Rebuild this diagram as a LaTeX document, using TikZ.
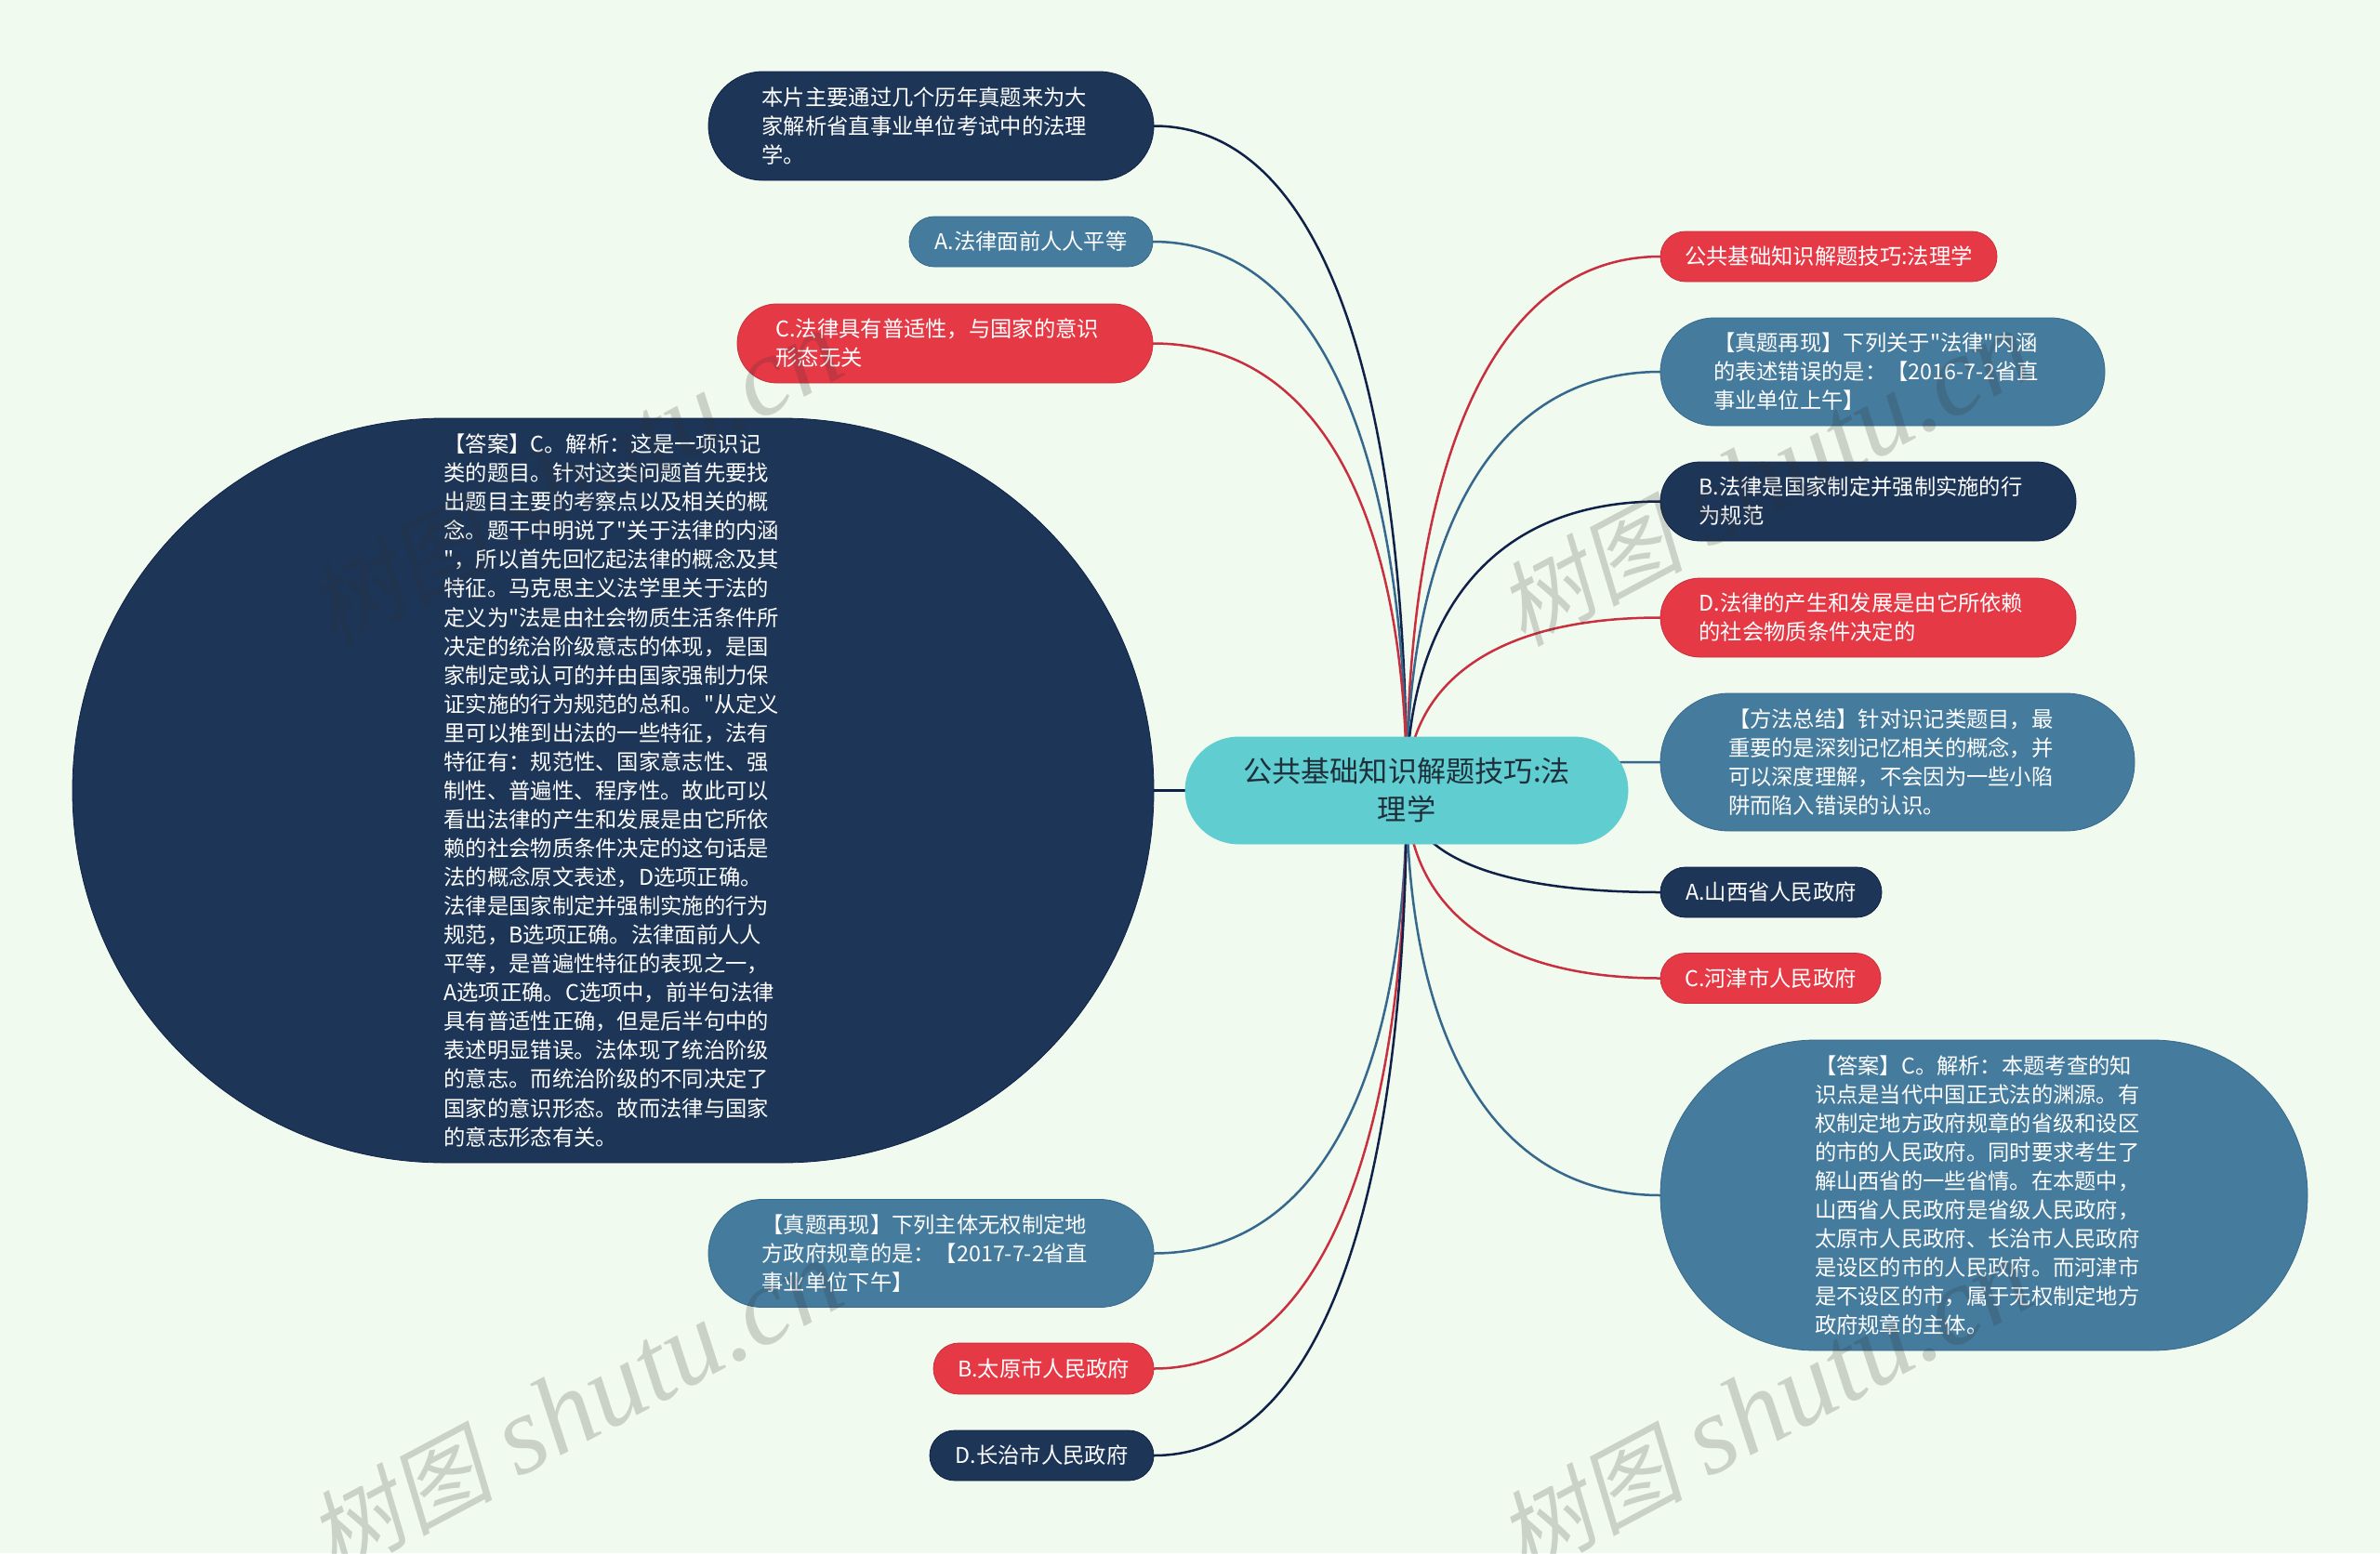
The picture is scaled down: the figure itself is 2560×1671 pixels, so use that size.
\documentclass[tikz,border=0pt]{standalone}
\usepackage{fontspec}
\usetikzlibrary{backgrounds}
\newfontfamily\cjkm{Noto Sans CJK SC}
\newfontfamily\wmcjk[FakeSlant=0.2]{Noto Sans CJK SC}
\newfontfamily\wmlat{Liberation Serif}[ItalicFont={Liberation Serif Italic}]
\definecolor{bgc}{HTML}{F1FAEE}
\definecolor{navyf}{HTML}{1D3557}
\definecolor{bluef}{HTML}{457B9D}
\definecolor{redf}{HTML}{E63946}
\definecolor{tealf}{HTML}{60CDD0}
\definecolor{centt}{HTML}{1E2F3A}
\definecolor{navyl}{HTML}{0F2148}
\definecolor{bluel}{HTML}{36688E}
\definecolor{redl}{HTML}{C8303F}
\definecolor{wmc}{HTML}{323232}
\tikzset{
  x=0.5pt,y=-0.5pt,
  mbox/.style 2 args={rectangle,inner sep=0pt,outer sep=0pt,text=white,align=left,
    font=\cjkm\fontsize{11.65}{15.53}\selectfont,
    minimum width=#1*0.5pt,minimum height=#2*0.5pt,rounded corners=#2*0.2495pt},
  para/.style={text width=182pt},
  navyn/.style={fill=navyf,draw=navyl,line width=0.4pt},
  bluen/.style={fill=bluef,draw=bluel,line width=0.4pt},
  redn/.style={fill=redf,draw=redl,line width=0.4pt},
  link/.style={line width=1.25pt},
  navyk/.style={link,draw=navyl},
  bluek/.style={link,draw=bluel},
  redk/.style={link,draw=redl},
  wmark/.style={rotate=28,anchor=base west,text=wmc,opacity=0.2,inner sep=0pt}
}
\newcommand\lnk[4]{\draw[#1] (cen.center) .. controls +(0,#4) and +(#3,0) .. (#2);}
\newcommand\wmtext{{\wmcjk\fontsize{50}{50}\selectfont 树图}\hspace{13pt}{\wmlat\itshape\fontsize{60}{60}\selectfont shutu.cn}}
\begin{document}
\begin{tikzpicture}
\useasboundingbox (0,0) rectangle (2560,1671);
% central
\node[mbox={476}{115},fill=tealf,draw=tealf,text=centt,align=center,
  font=\cjkm\fontsize{15.6}{20.5}\selectfont] (cen) at (1513,850.5) {公共基础知识解题技巧:法\\理学};
% left
\node[mbox={479}{117},navyn,para] (intro) at (1001.5,135.5) {本片主要通过几个历年真题来为大\\家解析省直事业单位考试中的法理\\学。};
\node[mbox={262}{54},bluen] (la) at (1109,260) {A.法律面前人人平等};
\node[mbox={447}{85},redn,para] (lc) at (1016.5,369.5) {C.法律具有普适性，与国家的意识\\形态无关};
\node[mbox={1163}{801},navyn,para] (big) at (659.5,850.5) {【答案】C。解析：这是一项识记\\类的题目。针对这类问题首先要找\\出题目主要的考察点以及相关的概\\念。题干中明说了"关于法律的内涵\\"，所以首先回忆起法律的概念及其\\特征。马克思主义法学里关于法的\\定义为"法是由社会物质生活条件所\\决定的统治阶级意志的体现，是国\\家制定或认可的并由国家强制力保\\证实施的行为规范的总和。"从定义\\里可以推到出法的一些特征，法有\\特征有：规范性、国家意志性、强\\制性、普遍性、程序性。故此可以\\看出法律的产生和发展是由它所依\\赖的社会物质条件决定的这句话是\\法的概念原文表述，D选项正确。\\法律是国家制定并强制实施的行为\\规范，B选项正确。法律面前人人\\平等，是普遍性特征的表现之一，\\A选项正确。C选项中，前半句法律\\具有普适性正确，但是后半句中的\\表述明显错误。法体现了统治阶级\\的意志。而统治阶级的不同决定了\\国家的意识形态。故而法律与国家\\的意志形态有关。};
\node[mbox={479}{116},bluen,para] (lt) at (1001.5,1348.5) {【真题再现】下列主体无权制定地\\方政府规章的是：【2017-7-2省直\\事业单位下午】};
\node[mbox={237}{55},redn] (lb) at (1122.5,1472.5) {B.太原市人民政府};
\node[mbox={241}{54},navyn] (ld) at (1120.5,1566) {D.长治市人民政府};
% right
\node[mbox={362}{54},redn] (r1) at (1967,276) {公共基础知识解题技巧:法理学};
\node[mbox={478}{116},bluen,para] (r2) at (2025,400) {【真题再现】下列关于"法律"内涵\\的表述错误的是：【2016-7-2省直\\事业单位上午】};
\node[mbox={447}{85},navyn,para] (r3) at (2009.5,539.5) {B.法律是国家制定并强制实施的行\\为规范};
\node[mbox={447}{85},redn,para] (r4) at (2009.5,664.5) {D.法律的产生和发展是由它所依赖\\的社会物质条件决定的};
\node[mbox={510}{148},bluen,para] (r5) at (2041,820) {【方法总结】针对识记类题目，最\\重要的是深刻记忆相关的概念，并\\可以深度理解，不会因为一些小陷\\阱而陷入错误的认识。};
\node[mbox={238}{54},navyn] (r6) at (1905,960) {A.山西省人民政府};
\node[mbox={237}{54},redn] (r7) at (1904.5,1052.5) {C.河津市人民政府};
\node[mbox={696}{334},bluen,para] (r8) at (2134,1286) {【答案】C。解析：本题考查的知\\识点是当代中国正式法的渊源。有\\权制定地方政府规章的省级和设区\\的市的人民政府。同时要求考生了\\解山西省的一些省情。在本题中，\\山西省人民政府是省级人民政府，\\太原市人民政府、长治市人民政府\\是设区的市的人民政府。而河津市\\是不设区的市，属于无权制定地方\\政府规章的主体。};
% connectors and page ground
\begin{pgfonlayer}{background}
\fill[bgc] (0,0) rectangle (2560,1671);
\lnk{navyk}{intro.east}{191}{-407}
\lnk{bluek}{la.east}{191}{-336}
\lnk{redk}{lc.east}{191}{-274}
\draw[navyk] (cen.west) -- (big.east);
\lnk{bluek}{lt.east}{191}{284}
\lnk{redk}{lb.east}{191}{355}
\lnk{navyk}{ld.east}{191}{408}
\lnk{redk}{r1.west}{-191}{-327}
\lnk{bluek}{r2.west}{-191}{-256}
\lnk{navyk}{r3.west}{-191}{-177}
\lnk{redk}{r4.west}{-191}{-106}
\lnk{bluek}{r5.west}{-191}{-17}
\lnk{navyk}{r6.west}{-191}{63}
\lnk{redk}{r7.west}{-191}{115}
\lnk{bluek}{r8.west}{-191}{248}
\end{pgfonlayer}
% watermarks
\node[wmark] (w1) at (358,697) {\wmtext};
\node[wmark] (w2) at (358,1697) {\wmtext};
\node[wmark] (w3) at (1638,697) {\wmtext};
\node[wmark] (w4) at (1638,1697) {\wmtext};
\end{tikzpicture}
\end{document}
